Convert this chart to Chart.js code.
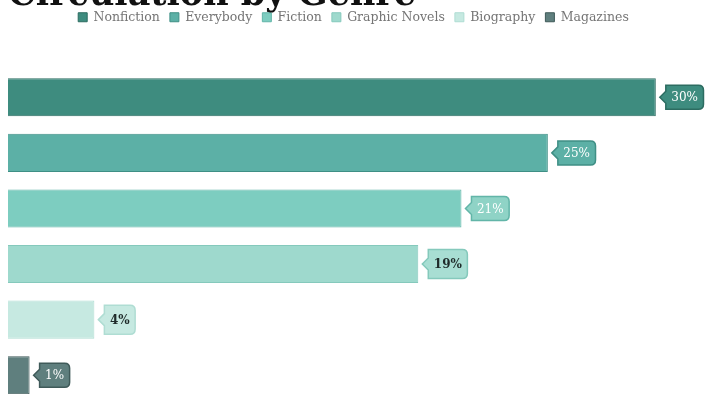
<!DOCTYPE html>
<html>
<head>
<meta charset="utf-8">
<script src="https://cdn.jsdelivr.net/npm/chart.js@4"></script>
<style>
  html, body { margin: 0; padding: 0; background: #fff; overflow: hidden; }
  #frame { position: relative; width: 706px; height: 394px; overflow: hidden; }
  #wrap { position: absolute; left: 0; top: -22px; width: 706px; height: 426px; }
</style>
</head>
<body>
<div id="frame"><div id="wrap"><canvas id="genreChart"></canvas></div></div>
<script>
const genres = ['Nonfiction', 'Everybody', 'Fiction', 'Graphic Novels', 'Biography', 'Magazines'];
const shares = [30, 25, 21, 19, 4, 1];
const shareLabels = ['30%', '25%', '21%', '19%', '4%', '1%'];

const fills = ['#3e8c7f', '#5cb0a6', '#7dcdc0', '#9ed9cd', '#c6e9e1', '#5f7f7e'];
const borders = ['#2c6c61', '#3f8f85', '#62b5a8', '#85c9bc', '#afddd3', '#3f5a59'];
const tagFills = ['#3e8c7f', '#5cb0a6', '#8fd3c6', '#a8ded3', '#c6e9e1', '#5f7f7e'];
const tagText = ['#ffffff', '#ffffff', '#ffffff', '#1f2b2a', '#1f2b2a', '#ffffff'];

// callout tags at the end of every bar
const tagPlugin = {
    id: 'tags',
    afterDatasetsDraw(chart) {
        const ctx = chart.ctx;
        ctx.save();
        chart.data.datasets.forEach((ds, i) => {
            const bar = chart.getDatasetMeta(i).data[0];
            const text = shareLabels[i];
            const dark = tagText[i] !== '#ffffff';
            ctx.font = (dark ? 'bold ' : '') + '12px "DejaVu Serif"';
            const tw = ctx.measureText(text).width;
            const h = dark ? 29 : 24;
            const tip = bar.x + 4;
            const left = tip + 6;
            const right = left + tw + 11;
            const top = bar.y - h / 2;
            const bot = bar.y + h / 2;
            const r = 5;
            ctx.beginPath();
            ctx.moveTo(tip, bar.y);
            ctx.lineTo(left, bar.y - 6);
            ctx.lineTo(left, top);
            ctx.lineTo(right - r, top);
            ctx.quadraticCurveTo(right, top, right, top + r);
            ctx.lineTo(right, bot - r);
            ctx.quadraticCurveTo(right, bot, right - r, bot);
            ctx.lineTo(left, bot);
            ctx.lineTo(left, bar.y + 6);
            ctx.closePath();
            ctx.fillStyle = tagFills[i];
            ctx.fill();
            ctx.lineWidth = 1.5;
            ctx.strokeStyle = borders[i];
            ctx.stroke();
            ctx.fillStyle = tagText[i];
            ctx.textAlign = 'center';
            ctx.textBaseline = 'middle';
            ctx.fillText(text, (left + right) / 2, bar.y + 1);
        });
        ctx.restore();
    }
};

const legendGap = {
    id: 'legendGap',
    beforeInit(chart) {
        const fit = chart.legend.fit;
        chart.legend.fit = function () {
            fit.bind(chart.legend)();
            this.height += 36;
        };
    }
};

const data = {
    labels: [''],
    datasets: genres.map((g, i) => ({
        label: g,
        data: [shares[i]],
        backgroundColor: fills[i],
        borderColor: borders[i],
        borderWidth: 1,
        categoryPercentage: 1,
        barPercentage: 0.686
    }))
};

const config = {
    type: 'bar',
    data: data,
    options: {
        indexAxis: 'y',
        responsive: true,
        maintainAspectRatio: false,
        animation: false,
        layout: { padding: { left: 8, right: 7, top: 0, bottom: 1 } },
        scales: {
            x: { display: false, min: 0, max: 32 },
            y: { display: false }
        },
        plugins: {
            title: {
                display: true,
                text: 'Circulation by Genre',
                align: 'start',
                color: '#111111',
                font: { family: '"DejaVu Serif"', size: 35, weight: 'bold', lineHeight: 1 },
                padding: { top: 0, bottom: -12 }
            },
            legend: {
                display: true,
                labels: {
                    boxWidth: 9,
                    boxHeight: 9,
                    padding: 10,
                    color: '#757575',
                    font: { family: '"DejaVu Serif"', size: 12.5 }
                }
            },
            tooltip: { enabled: false }
        }
    },
    plugins: [legendGap, tagPlugin]
};

const myChart = new Chart(document.getElementById('genreChart'), config);
</script>
</body>
</html>
